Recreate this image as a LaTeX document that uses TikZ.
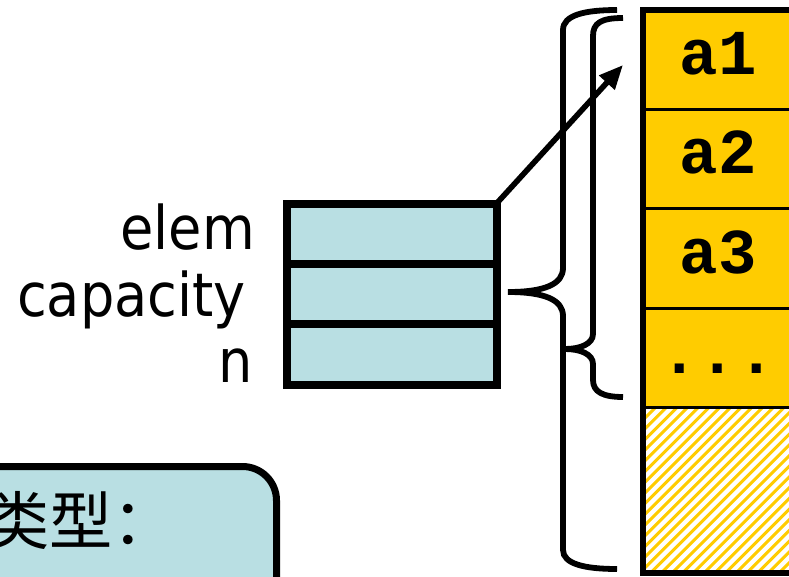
\documentclass[tikz,border=0pt]{standalone}
\usepackage{fontspec}
\setmainfont{DejaVu Sans Condensed}
\newfontfamily\slotfont{Liberation Mono}
\newfontfamily\cjkfont{Noto Sans CJK SC}
\usetikzlibrary{positioning,arrows.meta}
\definecolor{fieldblue}{RGB}{185,223,227}
\definecolor{slotyellow}{RGB}{255,204,0}
\begin{document}
\begin{tikzpicture}[x=0.25mm,y=-0.25mm,
    field/.style={draw=black,line width=2mm,fill=fieldblue,minimum width=52.5mm,
      minimum height=15.1mm,inner sep=0pt,outer sep=0pt},
    fieldname/.style={font=\fontsize{42.8}{52}\selectfont,inner sep=0pt,anchor=base east},
    slotname/.style={font=\slotfont\bfseries\fontsize{45.5}{54}\selectfont,inner sep=0pt,anchor=base},
    brace/.style={line width=1.45mm}]
    \useasboundingbox (0,0) rectangle (789,576);
    \clip (0,0) rectangle (789,576);
    \node[field] (elem) at (391.5,233.75) {};
    \node[field,below=0pt of elem] (capacity) {};
    \node[field,below=0pt of capacity] (n) {};
    \foreach \nname/\ntext/\px/\py in {elemname/elem/255/249,capname/capacity/246/316,nname/n/253/382}{
      \node[fieldname] (\nname) at (\px,\py) {\ntext};
    }
    \filldraw[slotyellow,draw=black,line width=0.75mm] (643,10) rectangle (840,407.5);
    \foreach \py in {109,208,308}{
      \draw[line width=0.75mm] (643,\py) -- (840,\py);
    }
    \begin{scope}
      \clip (643,407.5) rectangle (840,573);
      \foreach \k in {0,...,36}{
        \draw[slotyellow,line width=0.75mm] ({473+10.7*\k},590) -- ++(220,-220);
      }
    \end{scope}
    \draw[line width=0.75mm] (643,407.5) -- (840,407.5);
    \draw[line width=1.5mm] (840,10) -- (643,10) -- (643,573) -- (840,573);
    \foreach \nname/\py in {a1/74,a2/173,a3/273}{
      \node[slotname] (\nname) at (718,\py) {\nname};
    }
    \node[slotname] (rest) at (718,373) {...};
    \draw[brace] (617,10) .. controls (585,10) and (563,15) .. (563,30) -- (563,268)
      .. controls (563,284) and (545,292) .. (508,292)
      .. controls (545,292) and (563,300) .. (563,316) -- (563,550)
      .. controls (563,564) and (585,569) .. (617,569);
    \draw[brace] (623,18) .. controls (601,18) and (593,23) .. (593,36) -- (593,334)
      .. controls (593,344) and (580,349) .. (565,349)
      .. controls (580,349) and (593,354) .. (593,364) -- (593,380)
      .. controls (593,392) and (603,397) .. (623,397);
    \coordinate (a1ptr) at (623,65);
    \draw[line width=1.4mm,-{Triangle[length=6mm,width=5mm]}] (elem.north east) -- (a1ptr);
    \node[draw=black,line width=1.75mm,fill=fieldblue,rounded corners=8.5mm,
      minimum width=100mm,minimum height=40mm,anchor=north east] (typebox) at (280,463) {};
    \node[font=\cjkfont\fontsize{45}{52}\selectfont,inner sep=0pt,anchor=west] (typename)
      at (-14,520) {类型：};
\end{tikzpicture}
\end{document}
